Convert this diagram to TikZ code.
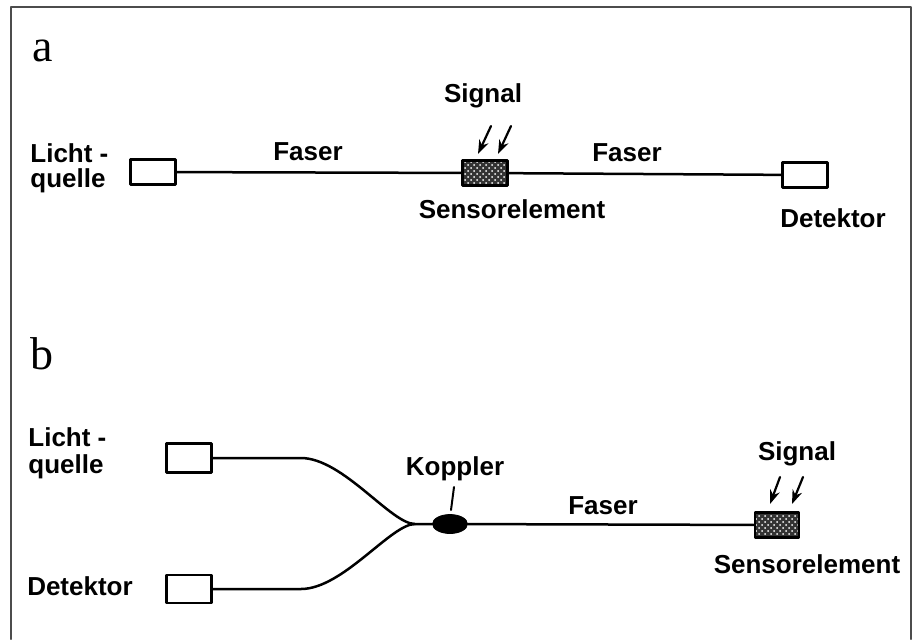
\documentclass[tikz,border=0pt]{standalone}
\usepackage{fontspec}
\setmainfont{Liberation Serif}
\newfontfamily\labelfont{Liberation Sans}
\usetikzlibrary{shapes.geometric,patterns,arrows.meta}

\begin{document}
\begin{tikzpicture}[x=0.5pt,y=-0.5pt,line join=round,line cap=round,
	fiber/.style={line width=1.25pt},
	endbox/.style={draw,line width=1.4pt,fill=white,minimum width=22.5pt,minimum height=12.5pt,inner sep=0pt},
	sensbox/.style={draw,line width=1.4pt,preaction={fill=black!80},pattern=crosshatch dots,pattern color=white,minimum width=22.5pt,minimum height=12.5pt,inner sep=0pt},
	txt/.style={font=\labelfont\bfseries\fontsize{13}{12.5}\selectfont,inner sep=0pt},
	panel/.style={font=\fontsize{23}{25}\selectfont,inner sep=0pt},
	sigarrow/.style={-{Stealth[length=7pt,width=5pt]},line width=1.1pt}]
	\useasboundingbox (0,0) rectangle (920,639);
	
	% 1. Frame (open at the bottom)
	\draw[line width=1pt,black!70] (11,639) -- (11,7) -- (911,7) -- (911,639);
	
	% 2. Panel a - straight transmission
	\node[panel] (pa) at (43,51) {a};
	\node[endbox] (lqa) at (153,172) {};
	\node[txt,align=left,anchor=west] (lqatxt) at (30,168) {Licht -\\quelle};
	\node[sensbox] (sa) at (485,173) {};
	\node[endbox] (da) at (805,175) {};
	\draw[fiber] (lqa) -- (sa) -- (da);
	
	\node[txt] (fa1) at (308,152) {Faser};
	\node[txt] (fa2) at (627,153) {Faser};
	\node[txt] (sig1) at (483,96) {Signal};
	\node[txt] (se1) at (512,209) {Sensorelement};
	\node[txt] (det1) at (833,218) {Detektor};
	
	% Signal arrows onto the sensor
	\draw[sigarrow] (491,126) -- (478,154);
	\draw[sigarrow] (511,126) -- (498,154);
	
	% 3. Panel b - reflection with coupler
	\node[panel] (pb) at (42,354) {b};
	\node[endbox,minimum height=14.5pt] (lqb) at (189,458) {};
	\node[endbox,minimum height=14pt] (db) at (189,589) {};
	\node[txt,align=left,anchor=west] (lqbtxt) at (28,453) {Licht -\\[1pt]quelle};
	\node[txt] (detb) at (80,586) {Detektor};
	
	\node[ellipse,draw,fill=black,minimum width=17.5pt,minimum height=9.5pt,inner sep=0pt] (kop) at (450,524) {};
	\coordinate (fork) at (415,524);
	
	% Y-branch into the coupler
	\draw[fiber] (lqb.east) -- ++(88,0) .. controls +(42,0) and +(-24,0) .. (fork) -- (kop);
	\draw[fiber] (db.east) -- ++(88,0) .. controls +(42,0) and +(-24,0) .. (fork);
	
	\node[txt] (kopl) at (455,469) {Koppler};
	\draw[line width=1pt] (454,487) -- (451,510);
	
	\node[sensbox,minimum width=22pt] (sb) at (777,525) {};
	\draw[fiber] (kop) -- (sb);
	
	\node[txt] (fab) at (603,506) {Faser};
	\node[txt] (sigb) at (797,454) {Signal};
	\node[txt] (seb) at (807,564) {Sensorelement};
	
	\draw[sigarrow] (780,477) -- (770,504);
	\draw[sigarrow] (803,477) -- (792,504);
\end{tikzpicture}
\end{document}
